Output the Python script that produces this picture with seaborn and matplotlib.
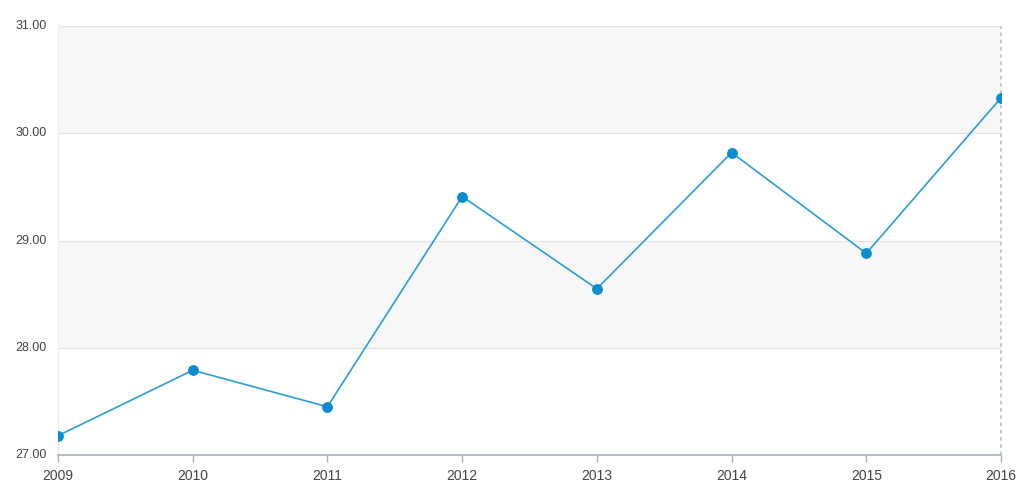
import numpy as np
import pandas as pd
import matplotlib
matplotlib.use("Agg")
import matplotlib.pyplot as plt
import seaborn as sns

years = [2009, 2010, 2011, 2012, 2013, 2014, 2015, 2016]
values = [27.18, 27.79, 27.45, 29.41, 28.55, 29.82, 28.88, 30.33]
y_ticks = [27, 28, 29, 30, 31]

df = pd.DataFrame({"year": years, "value": values})

sns.set_style("white")
plt.rcParams['font.family'] = ['Liberation Sans', 'DejaVu Sans']

fig = plt.figure(figsize=(10.24, 4.94), dpi=100)
ax = fig.add_axes([58 / 1024, 39 / 494, 943 / 1024, 429 / 494])

# alternating bands
for lo in (28, 30):
    ax.axhspan(lo, lo + 1, color="#f7f7f7", zorder=0, lw=0)
for t in y_ticks[1:]:
    ax.axhline(t, color="#e3e3e3", lw=0.9, zorder=1)

sns.lineplot(data=df, x="year", y="value", ax=ax, color="#2a9fd6", lw=1.2,
             marker="o", markersize=7, markerfacecolor="#0a8ccf",
             markeredgecolor="#0a8ccf", zorder=3)

ax.set_xlim(years[0], years[-1])
ax.set_ylim(27, 31)
ax.set_xticks(years)
ax.set_yticks(y_ticks)
ax.set_yticklabels(["{:.2f}".format(t) for t in y_ticks])
ax.set_xlabel("")
ax.set_ylabel("")

for s in ("top", "right", "left"):
    ax.spines[s].set_visible(False)
ax.spines["bottom"].set_color("#9fb4c4")
ax.spines["bottom"].set_linewidth(1.2)
ax.axvline(years[-1], color="#c4c4c4", lw=1.3, ls=(0, (2, 2)), zorder=2, clip_on=False)
ax.axvline(years[0], color="#ececec", lw=0.8, zorder=1, clip_on=False)

ax.tick_params(axis="x", colors="#9fb4c4", length=5, width=1, labelcolor="#444444",
               labelsize=10, pad=5, bottom=True)
ax.tick_params(axis="y", length=0, labelcolor="#444444", labelsize=9, pad=8)
for lbl in ax.get_yticklabels():
    lbl.set_verticalalignment("center")

fig.savefig("out.png", dpi=100)
